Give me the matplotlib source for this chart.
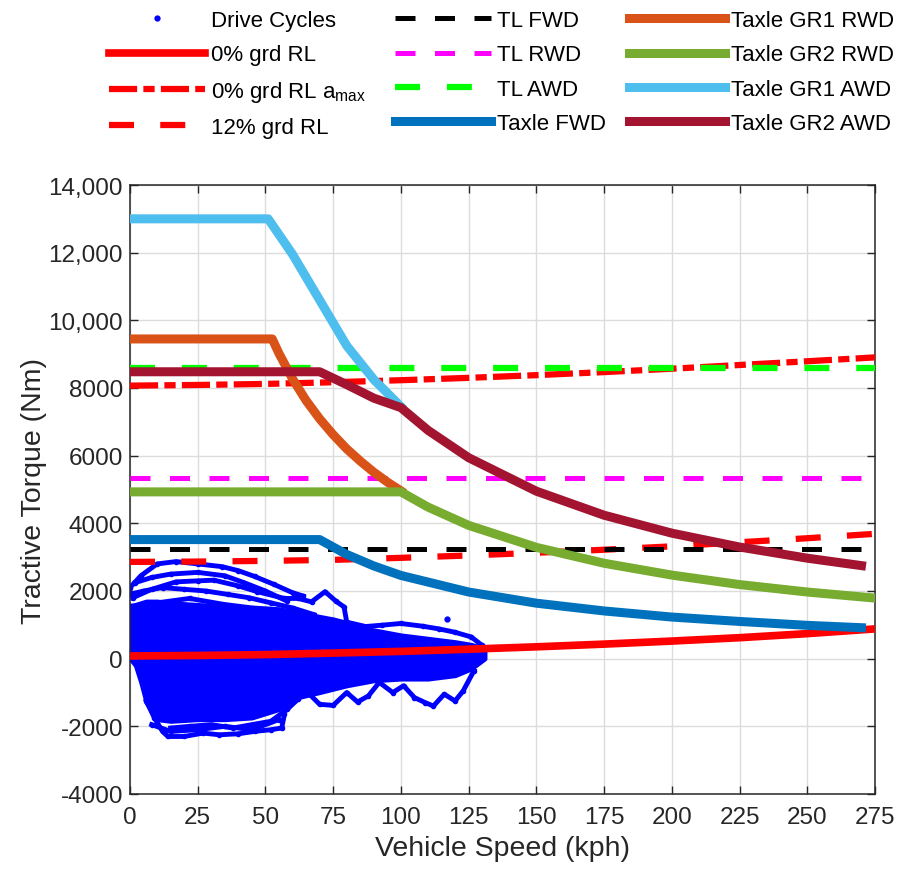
import matplotlib
matplotlib.use("Agg")
import matplotlib.pyplot as plt

plt.rcParams['font.family'] = ['Liberation Sans', 'DejaVu Sans']
plt.rcParams['mathtext.fontset'] = 'custom'
plt.rcParams['mathtext.rm'] = 'Liberation Sans'
plt.rcParams['mathtext.it'] = 'Liberation Sans:italic'

# ---------------- data ----------------
# drive cycles: dense core envelope
core_speed = [0, 2, 4, 6, 10, 15, 25, 35, 45, 55, 62, 70, 80, 90, 100, 110, 120, 126, 131]
core_upper = [1500, 1600, 1650, 1700, 1700, 1650, 1600, 1550, 1500, 1450, 1300, 1150, 950, 850, 700, 600, 500, 420, 300]
core_lower = [0, -200, -700, -1300, -1800, -1850, -1800, -1800, -1750, -1500, -1150, -1000, -800, -650, -600, -600, -500, -300, 0]
# drive cycles: outer traces
trace_speeds = [
    [0, 4, 10, 17, 25, 34, 40, 46, 53, 60, 64],
    [1, 8, 17, 25, 31, 40, 47, 57, 62, 67, 72, 76, 79, 80, 87, 93, 100, 108, 114, 120, 126, 130],
    [0, 10, 22, 35, 45, 55, 65, 75, 85],
    [0, 5, 12, 20, 28, 36, 44, 52, 60, 68],
    [2, 8, 15, 25, 35, 42, 50, 58],
    [6, 9, 12, 14, 20, 27, 33, 40, 46, 52, 56, 57],
    [15, 22, 30, 38, 45, 52, 58, 62],
    [8, 15, 25, 35, 45, 55],
    [60, 65, 70, 75, 80, 84, 88, 92, 97, 101, 105, 109, 112, 116, 120, 123, 127],
]
trace_torques = [
    [2100, 2450, 2800, 2870, 2800, 2720, 2600, 2430, 2200, 1950, 1850],
    [1800, 2050, 2270, 2300, 2320, 2150, 1980, 1780, 1780, 1680, 1980, 1700, 1530, 1080, 950, 990, 1040, 960, 880, 780, 640, 390],
    [1550, 1650, 1780, 1600, 1500, 1450, 1300, 1150, 950],
    [1900, 2000, 2100, 2050, 2000, 1900, 1800, 1650, 1500, 1300],
    [2250, 2400, 2500, 2550, 2450, 2250, 2000, 1700],
    [-1250, -1750, -2150, -2300, -2300, -2200, -2250, -2220, -2150, -2100, -2050, -1650],
    [-2050, -2000, -1950, -2050, -1950, -1850, -1500, -1200],
    [-1950, -2150, -2100, -2000, -2100, -1800],
    [-1150, -950, -1350, -1380, -1000, -1280, -1100, -700, -1000, -800, -1150, -1300, -1400, -1050, -1250, -950, -350],
]
dot_speed = [117]
dot_torque = [1180]

# road load curves
rl_speed = [0, 25, 50, 75, 100, 125, 150, 175, 200, 225, 250, 275]
rl0 = [80, 95, 120, 165, 215, 280, 350, 430, 520, 620, 740, 880]
rl0_amax = [8070, 8090, 8120, 8170, 8230, 8300, 8380, 8470, 8570, 8680, 8790, 8905]
rl12 = [2860, 2870, 2890, 2920, 2980, 3050, 3130, 3220, 3320, 3440, 3560, 3690]

# traction limits
tl_speed = [0, 275]
tl_fwd = [3230, 3230]
tl_rwd = [5350, 5350]
tl_awd = [8580, 8580]

# axle torque curves
fwd_speed = [0, 70, 80, 90, 100, 125, 150, 175, 200, 225, 250, 270]
fwd_torque = [3520, 3520, 3080, 2740, 2460, 1970, 1640, 1410, 1230, 1100, 985, 915]
gr1rwd_speed = [0, 52.5, 55, 60, 65, 70, 75, 80, 85, 90, 95, 100]
gr1rwd_torque = [9450, 9450, 9020, 8270, 7630, 7090, 6620, 6200, 5840, 5510, 5220, 4960]
gr2rwd_speed = [0, 100, 110, 125, 150, 175, 200, 225, 250, 275]
gr2rwd_torque = [4930, 4930, 4480, 3940, 3290, 2820, 2470, 2190, 1970, 1790]
gr1awd_speed = [0, 51, 60, 70, 80, 90, 100]
gr1awd_torque = [13000, 13000, 11950, 10600, 9250, 8250, 7450]
gr2awd_speed = [0, 70, 80, 90, 100, 110, 125, 150, 175, 200, 225, 250, 270]
gr2awd_torque = [8480, 8480, 8100, 7700, 7420, 6750, 5940, 4950, 4240, 3710, 3300, 2970, 2750]

x_ticks = [0, 25, 50, 75, 100, 125, 150, 175, 200, 225, 250, 275]
y_ticks = [-4000, -2000, 0, 2000, 4000, 6000, 8000, 10000, 12000, 14000]
y_ticklabels = ['-4000', '-2000', '0', '2000', '4000', '6000', '8000', '10,000', '12,000', '14,000']

# ---------------- figure ----------------
fig = plt.figure(figsize=(9.02, 8.70), dpi=100)
ax = fig.add_axes([130/902, 75/870, 745/902, 609/870])

blue = '#0000FF'
ax.fill_between(core_speed, core_lower, core_upper, color=blue, lw=3, edgecolor=blue, zorder=2)
for sp, tq in zip(trace_speeds, trace_torques):
    ax.plot(sp, tq, color=blue, lw=3.5, marker='.', ms=6, zorder=2)
h_dc, = ax.plot(dot_speed, dot_torque, ls='none', marker='.', color=blue, ms=7, zorder=2,
                label='Drive Cycles')

h_rl0, = ax.plot(rl_speed, rl0, color='#FF0000', lw=5.5, label='0% grd RL', zorder=3)
h_rla, = ax.plot(rl_speed, rl0_amax, color='#FF0000', lw=4.5, dashes=(4.5, 1.0, 1.8, 1.0),
                 label='0% grd RL a$_{\\mathrm{max}}$', zorder=3)
h_rl12, = ax.plot(rl_speed, rl12, color='#FF0000', lw=4.5, dashes=(4.0, 4.2),
                  label='12% grd RL', zorder=3)

h_tf, = ax.plot(tl_speed, tl_fwd, color='black', lw=3.6, dashes=(4.0, 3.9), label='TL FWD', zorder=3)
h_tr, = ax.plot(tl_speed, tl_rwd, color='#FF00FF', lw=3.6, dashes=(4.0, 3.9), label='TL RWD', zorder=3)
h_ta, = ax.plot(tl_speed, tl_awd, color='#00FF00', lw=4.5, dashes=(4.0, 4.3), label='TL AWD', zorder=3)

h_f, = ax.plot(fwd_speed, fwd_torque, color='#0072BD', lw=6.5, label='Taxle FWD', zorder=4)
h_g1r, = ax.plot(gr1rwd_speed, gr1rwd_torque, color='#D95319', lw=6.5, label='Taxle GR1 RWD', zorder=4)
h_g2r, = ax.plot(gr2rwd_speed, gr2rwd_torque, color='#77AC30', lw=6.5, label='Taxle GR2 RWD', zorder=4)
h_g1a, = ax.plot(gr1awd_speed, gr1awd_torque, color='#4DBEEE', lw=6.5, label='Taxle GR1 AWD', zorder=4)
h_g2a, = ax.plot(gr2awd_speed, gr2awd_torque, color='#A2142F', lw=6.5, label='Taxle GR2 AWD', zorder=4)

ax.set_xlim(0, 275)
ax.set_ylim(-4000, 14000)
ax.set_xticks(x_ticks)
ax.set_xticklabels([str(v) for v in x_ticks])
ax.set_yticks(y_ticks)
ax.set_yticklabels(y_ticklabels)
ax.grid(True, color='#DCDCDC', lw=1.0, zorder=0)
ax.set_axisbelow(True)
ax.tick_params(direction='in', length=6, width=1.0, top=True, right=True,
               labelsize=17.5, colors='#262626', pad=9)
ax.tick_params(axis='y', pad=5)
for s in ax.spines.values():
    s.set_color('#262626')
    s.set_linewidth(1.1)

ax.set_xlabel('Vehicle Speed (kph)', fontsize=20.5, color='#262626', labelpad=5)
ax.set_ylabel('Tractive Torque (Nm)', fontsize=20.5, color='#262626', labelpad=1)

columns = [
    ([h_dc, h_rl0, h_rla, h_rl12], 109),
    ([h_tf, h_tr, h_ta, h_f], 395),
    ([h_g1r, h_g2r, h_g1a, h_g2a], 629),
]
for hs, xpix in columns:
    fig.legend(hs, [h.get_label() for h in hs], loc='upper left',
               bbox_to_anchor=(xpix/902, 1 - 11/870), ncol=1, frameon=False, fontsize=16,
               handlelength=4.3, handletextpad=0.3, labelspacing=0.6,
               borderpad=0, borderaxespad=0, markerscale=1.0)

fig.savefig('out.png', dpi=100)
